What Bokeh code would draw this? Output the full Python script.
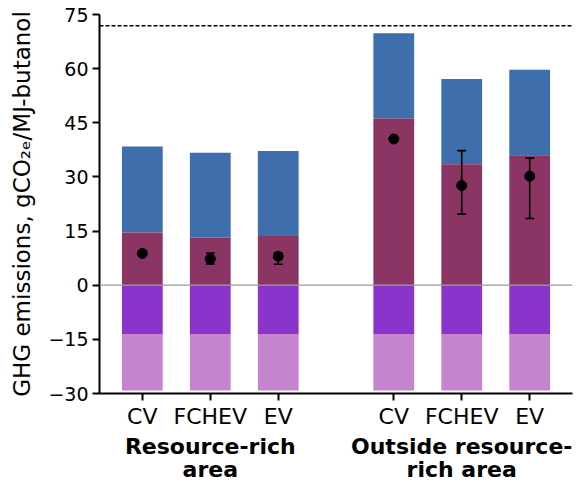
from bokeh.plotting import figure
from bokeh.models import ColumnDataSource, FixedTicker, Span, Range1d, LinearAxis
from bokeh.embed import file_html
from bokeh.resources import INLINE

# ---- data ----
vehicles = ["CV", "FCHEV", "EV", "CV", "FCHEV", "EV"]
group_index = [0, 0, 0, 1, 1, 1]
group_names = ["Resource-rich\narea", "Outside resource-\nrich area"]
magenta_top = [14.6, 13.2, 13.6, 46.2, 33.5, 36.0]
blue_top = [38.4, 36.7, 37.2, 69.8, 57.1, 59.7]
purple_bottom = [-13.5, -13.5, -13.5, -13.5, -13.5, -13.5]
light_bottom = [-29.2, -29.2, -29.2, -29.2, -29.2, -29.2]
point_vals = [8.8, 7.3, 8.0, 40.5, 27.6, 30.2]
err_low = [8.8, 5.9, 5.8, 40.5, 19.7, 18.5]
err_high = [8.8, 8.9, 9.0, 40.5, 37.3, 35.2]
reference_value = 71.9
y_ticks = [-30, -15, 0, 15, 30, 45, 60, 75]

# ---- layout helpers ----
GAP = 0.7
BAR_W = 0.6
CAP = 0.065
xs = [i + g * GAP for i, g in enumerate(group_index)]
zeros = [0] * len(xs)
centers = []
for g in range(len(group_names)):
    members = [x for x, gi in zip(xs, group_index) if gi == g]
    centers.append(sum(members) / len(members))

src = ColumnDataSource(dict(
    x=xs, mag=magenta_top, blue=blue_top, pur=purple_bottom, light=light_bottom,
    zero=zeros, pt=point_vals, lo=err_low, hi=err_high,
    cl=[x - CAP for x in xs], cr=[x + CAP for x in xs],
))

p = figure(width=587, height=484, output_backend="svg", toolbar_location=None,
           x_range=Range1d(-0.63, xs[-1] + 0.63), y_range=Range1d(-30, 75),
           min_border_left=99, min_border_right=15, min_border_top=14, min_border_bottom=91)
p.outline_line_color = None
p.xgrid.grid_line_color = None
p.ygrid.grid_line_color = None
p.background_fill_color = "white"

blue_c = "#3F6EAC"
mag_c = "#8A3563"
pur_c = "#8B34CC"
light_c = "#C585CE"

p.vbar(x="x", width=BAR_W, bottom="mag", top="blue", source=src, fill_color=blue_c, line_color=None)
p.vbar(x="x", width=BAR_W, bottom="zero", top="mag", source=src, fill_color=mag_c, line_color=None)
p.vbar(x="x", width=BAR_W, bottom="pur", top="zero", source=src, fill_color=pur_c, line_color=None)
p.vbar(x="x", width=BAR_W, bottom="light", top="pur", source=src, fill_color=light_c, line_color=None)

p.add_layout(Span(location=0, dimension="width", line_color="#9a9a9a", line_width=1.2))
p.add_layout(Span(location=reference_value, dimension="width", line_color="black",
                  line_width=1.5, line_dash="4 2"))

p.segment(x0="x", y0="lo", x1="x", y1="hi", source=src, line_color="black", line_width=1.6)
p.segment(x0="cl", y0="lo", x1="cr", y1="lo", source=src, line_color="black", line_width=1.6)
p.segment(x0="cl", y0="hi", x1="cr", y1="hi", source=src, line_color="black", line_width=1.6)
p.scatter(x="x", y="pt", source=src, size=10, fill_color="black", line_color="black")

FONT = "DejaVu Sans"
# y axis
ya = p.yaxis[0]
ya.ticker = FixedTicker(ticks=y_ticks)
ya.major_label_overrides = {t: (str(t).replace("-", "\u2212")) for t in y_ticks}
ya.axis_label = "GHG emissions, gCO\u2082\u2091/MJ-butanol"
ya.axis_label_text_font = FONT
ya.axis_label_text_font_style = "normal"
ya.axis_label_text_font_size = "23px"
ya.axis_label_standoff = 10
ya.major_label_text_font = FONT
ya.major_label_text_font_size = "19px"
ya.major_label_standoff = 4
ya.minor_tick_line_color = None
ya.major_tick_out = 7
ya.major_tick_in = 0
ya.axis_line_width = 2
ya.major_tick_line_width = 2
ya.axis_line_color = "black"
ya.major_tick_line_color = "black"
ya.major_label_text_color = "black"
ya.axis_label_text_color = "black"

# x axis
xa = p.xaxis[0]
xa.ticker = FixedTicker(ticks=xs)
xa.major_label_overrides = {x: v for x, v in zip(xs, vehicles)}
xa.major_label_text_font = FONT
xa.major_label_text_font_size = "22px"
xa.major_label_standoff = 3
xa.minor_tick_line_color = None
xa.major_tick_out = 7
xa.major_tick_in = 0
xa.axis_line_width = 2
xa.major_tick_line_width = 2
xa.axis_line_color = "black"
xa.major_tick_line_color = "black"
xa.major_label_text_color = "black"

# group labels as a second (line-less) axis below
ga = LinearAxis(ticker=FixedTicker(ticks=centers),
                major_label_overrides={c: n for c, n in zip(centers, group_names)})
ga.axis_line_color = None
ga.major_tick_line_color = None
ga.minor_tick_line_color = None
ga.major_tick_out = 0
ga.major_tick_in = 0
ga.major_label_standoff = 2
ga.major_label_text_font = FONT
ga.major_label_text_font_style = "bold"
ga.major_label_text_font_size = "22px"
ga.major_label_text_line_height = 0.92
ga.major_label_text_color = "black"
p.add_layout(ga, "below")

open("out.html", "w").write(file_html(p, INLINE))
